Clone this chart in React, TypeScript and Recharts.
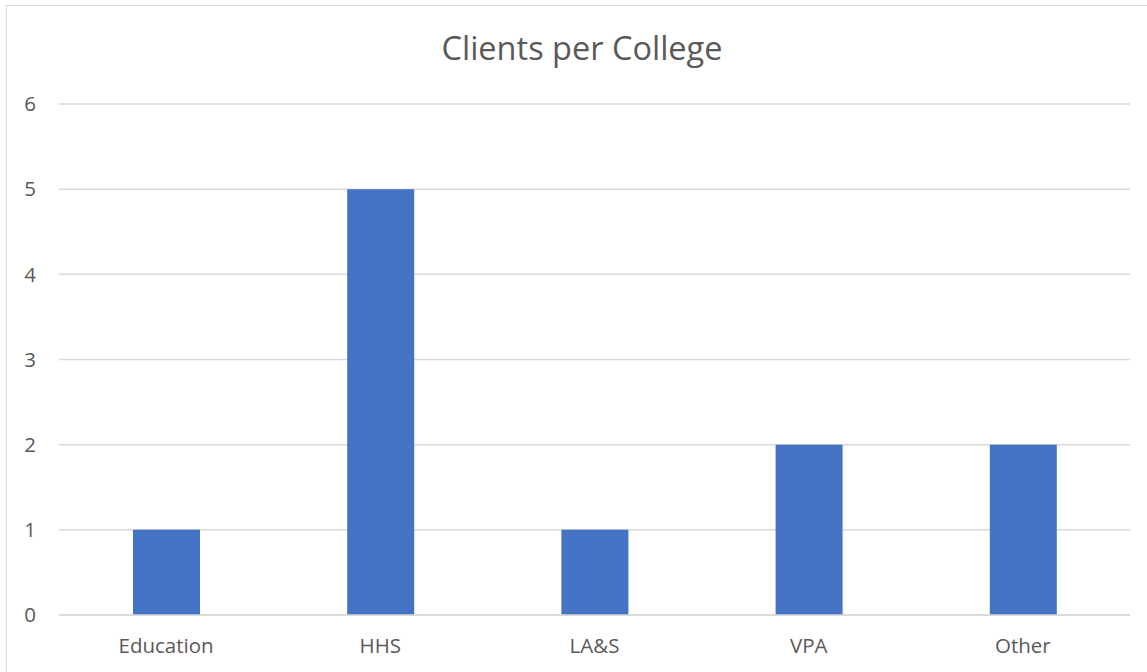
import React from 'react';
import { BarChart, Bar, XAxis, YAxis, CartesianGrid } from 'recharts';

const categories = ['Education', 'HHS', 'LA&S', 'VPA', 'Other'];
const clients = [1, 5, 1, 2, 2];
const yTicks = [0, 1, 2, 3, 4, 5, 6];
const title = 'Clients per College';

const data = categories.map((c, i) => ({ name: c, value: clients[i] }));

const FONT = '"Open Sans", "Noto Sans", sans-serif';
const TEXT = '#595959';
const GRID = '#d9d9d9';

export default function App() {
  return (
    <div style={{ position: 'absolute', left: 0, top: 0, width: 1147, height: 672, background: '#fff', overflow: 'hidden' }}>
      <div style={{ position: 'absolute', left: 6, top: 5, width: 1160, height: 700, border: '1.5px solid #d9d9d9', boxSizing: 'border-box' }} />
      <div style={{ position: 'absolute', left: 0, top: 25, width: 1164, textAlign: 'center', fontFamily: FONT, fontSize: 32.5, color: TEXT, lineHeight: '46px' }}>
        {title}
      </div>
      <div style={{ position: 'absolute', left: 0, top: 0 }}>
        <BarChart width={1147} height={672} data={data} margin={{ top: 104, right: 17, bottom: 0, left: 0 }}>
          <CartesianGrid vertical={false} stroke={GRID} strokeWidth={1.5} />
          <XAxis
            dataKey="name"
            height={57}
            tickLine={false}
            axisLine={{ stroke: GRID, strokeWidth: 1.5 }}
            tick={{ fill: TEXT, fontSize: 20.5, fontFamily: FONT }}
            tickMargin={17}
          />
          <YAxis
            width={59}
            domain={[0, 6]}
            ticks={yTicks}
            tickLine={false}
            axisLine={false}
            tick={{ fill: TEXT, fontSize: 20.5, fontFamily: FONT }}
            tickMargin={17}
          />
          <Bar dataKey="value" fill="#4472C4" barSize={67} isAnimationActive={false} />
        </BarChart>
      </div>
    </div>
  );
}
